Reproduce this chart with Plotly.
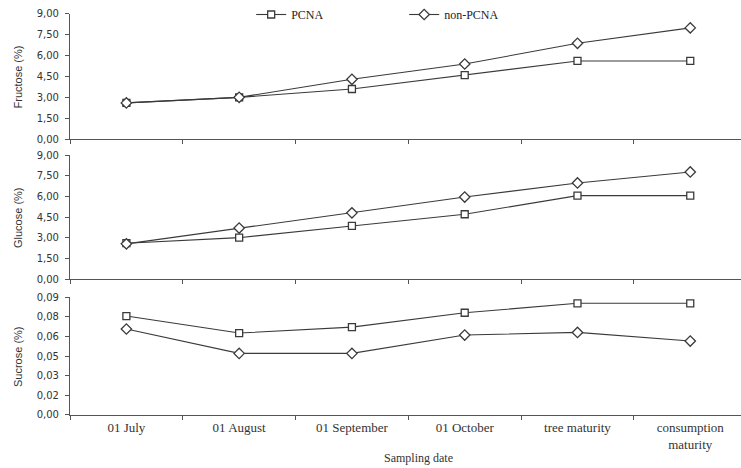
import plotly.graph_objects as go
from plotly.subplots import make_subplots

categories = ["01 July", "01 August", "01 September", "01 October", "tree maturity", "consumption<br>maturity"]

fructose_pcna = [2.60, 3.00, 3.60, 4.60, 5.62, 5.62]
fructose_non = [2.60, 3.00, 4.30, 5.40, 6.89, 8.00]
glucose_pcna = [2.60, 3.00, 3.85, 4.70, 6.05, 6.05]
glucose_non = [2.55, 3.70, 4.80, 5.95, 6.97, 7.77]
sucrose_pcna = [0.0755, 0.0625, 0.067, 0.078, 0.0852, 0.0852]
sucrose_non = [0.0656, 0.047, 0.047, 0.061, 0.063, 0.0564]

sugar_ticks = [0, 1.5, 3, 4.5, 6, 7.5, 9]
sugar_ticktext = ["0,00", "1,50", "3,00", "4,50", "6,00", "7,50", "9,00"]
sucrose_ticks = [0, 0.015, 0.03, 0.045, 0.06, 0.075, 0.09]
sucrose_ticktext = ["0,00", "0,02", "0,03", "0,05", "0,06", "0,08", "0,09"]

panels = [
    ("Fructose (%)", fructose_pcna, fructose_non, sugar_ticks, sugar_ticktext, [0, 9]),
    ("Glucose (%)", glucose_pcna, glucose_non, sugar_ticks, sugar_ticktext, [0, 9]),
    ("Sucrose (%)", sucrose_pcna, sucrose_non, sucrose_ticks, sucrose_ticktext, [0, 0.09]),
]

# plot area: x 70..741, y 0..415 (t=0, b=53)
domains = [[0.665, 0.9663], [0.3277, 0.6265], [0.0, 0.2843]]

fig = make_subplots(rows=3, cols=1, shared_xaxes=False, vertical_spacing=0.0)

line_col = "#3a3a3a"
serif = "Liberation Serif, Times New Roman, serif"
annotations = []
for i, (title, pc, non, tv, tt, rng) in enumerate(panels, start=1):
    fig.add_trace(go.Scatter(
        x=categories, y=pc, mode="lines+markers", name="PCNA",
        line=dict(color=line_col, width=1.1),
        marker=dict(symbol="square", size=7, color="white", line=dict(color=line_col, width=1.3)),
        showlegend=(i == 1)), row=i, col=1)
    fig.add_trace(go.Scatter(
        x=categories, y=non, mode="lines+markers", name="non-PCNA",
        line=dict(color=line_col, width=1.1),
        marker=dict(symbol="diamond", size=8, color="white", line=dict(color=line_col, width=1.3)),
        showlegend=(i == 1)), row=i, col=1)
    fig.update_yaxes(row=i, col=1, range=rng, tickvals=tv, ticktext=tt, domain=domains[i - 1],
                     showgrid=False, zeroline=False, showline=True, linecolor="#555555", linewidth=1.2,
                     ticks="outside", ticklen=4, tickcolor="#555555", automargin=False,
                     ticklabelstandoff=4,
                     tickfont=dict(family="DejaVu Sans", size=10, color="#333333"))
    d = domains[i - 1]
    annotations.append(dict(text=title, textangle=-90, xref="paper", yref="paper",
                            x=-0.0775, y=(d[0] + d[1]) / 2, xanchor="center", yanchor="middle",
                            showarrow=False,
                            font=dict(family="Liberation Sans Narrow, Liberation Sans", size=11, color="#333333")))
    fig.update_xaxes(row=i, col=1, type="category", range=[-0.5, 5.45],
                     showgrid=False, zeroline=False, showline=True, linecolor="#555555", linewidth=1.2,
                     ticks="outside", ticklen=4, tickcolor="#555555", tickson="boundaries",
                     showticklabels=(i == 3), automargin=False,
                     tickfont=dict(family=serif, size=13, color="#333333"))

annotations.append(dict(text="Sampling date", xref="paper", yref="paper", x=(418 - 70) / 671,
                        y=(415 - 458) / 415, xanchor="center", yanchor="middle", showarrow=False,
                        font=dict(family=serif, size=12, color="#333333")))

fig.update_layout(
    width=741, height=468,
    margin=dict(l=70, r=0, t=0, b=53),
    paper_bgcolor="white", plot_bgcolor="white",
    annotations=annotations,
    legend=dict(orientation="h", x=0.270, xanchor="left", y=1.0, yanchor="top",
                font=dict(family=serif, size=12, color="#222222"),
                bgcolor="rgba(0,0,0,0)", entrywidth=108, entrywidthmode="pixels"),
)

fig.write_html("out.html", config={"displayModeBar": False},
               post_script="document.body.style.margin='0';document.body.style.padding='0';document.body.style.overflow='hidden';")
